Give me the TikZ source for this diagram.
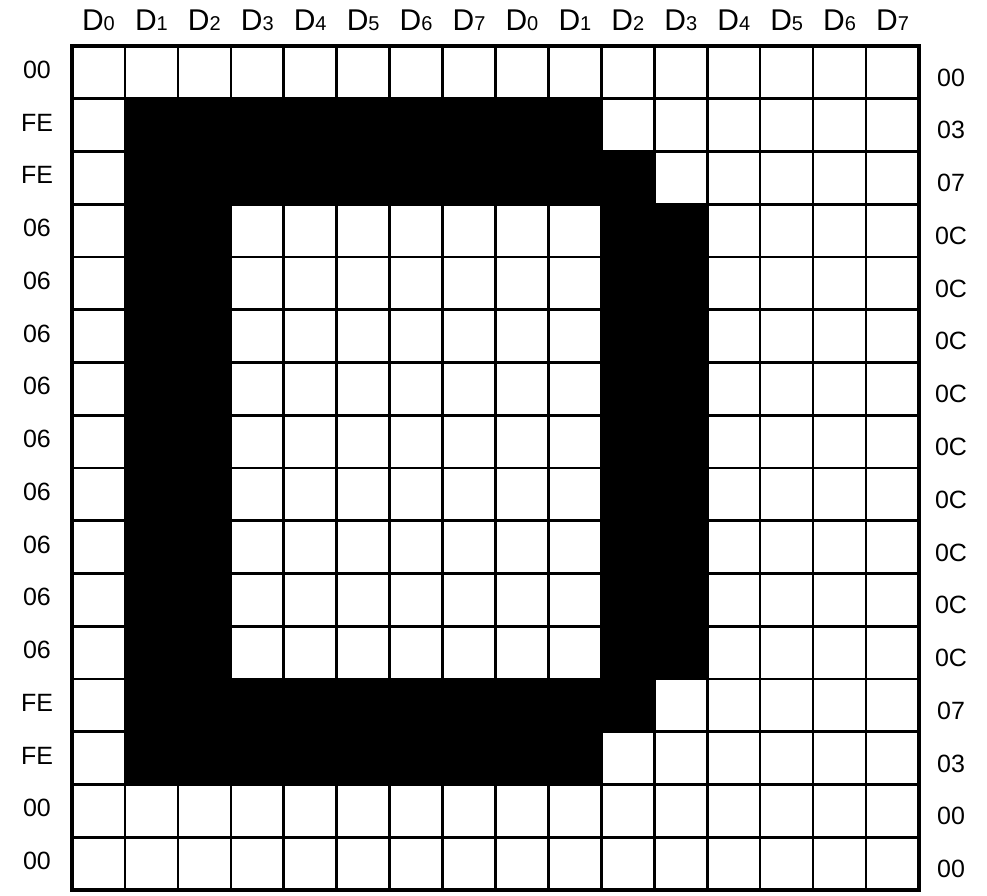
\documentclass[tikz,border=0pt]{standalone}
\usepackage{fontspec}
\setmainfont{Liberation Sans}
\begin{document}
\begin{tikzpicture}[x=1pt,y=1pt,
  gridline/.style={line width=2.6pt, line cap=round},
  blackcell/.style={fill=black, draw=none},
  hdr/.style={font=\fontsize{30}{32}\selectfont, inner sep=0pt, anchor=base},
  rowlbl/.style={font=\fontsize{25}{27}\selectfont, inner sep=0pt}]
\useasboundingbox (0,0) rectangle (987,896);
\def\cw{52.9375}
\def\ch{52.75}
\def\gx{72}
\def\gy{850}
% black cells (row/first col/last col)
\foreach \r/\a/\b in {1/1/9, 2/1/10, 12/1/10, 13/1/9}{
  \fill[blackcell] (\gx+\a*\cw, \gy-\r*\ch) rectangle (\gx+\b*\cw+\cw, \gy-\r*\ch-\ch);
}
\fill[blackcell] (\gx+1*\cw, \gy-3*\ch) rectangle (\gx+3*\cw, \gy-12*\ch);
\fill[blackcell] (\gx+10*\cw, \gy-3*\ch) rectangle (\gx+12*\cw, \gy-12*\ch);
% grid lines
\foreach \i in {0,...,16}{
  \draw[gridline] (\gx+\i*\cw, \gy) -- (\gx+\i*\cw, \gy-16*\ch);
  \draw[gridline] (\gx, \gy-\i*\ch) -- (\gx+16*\cw, \gy-\i*\ch);
}
\draw[line width=3.2pt] (\gx,\gy) rectangle (\gx+16*\cw, \gy-16*\ch);
% column headers
\foreach \i in {0,...,15}{
  \pgfmathtruncatemacro\d{mod(\i,8)}
  \node[hdr] (h\i) at (\gx+\i*\cw+0.5*\cw, 865) {D{\fontsize{20}{21}\selectfont\d}};
}
% left labels
\foreach \t [count=\k from 0] in {00,FE,FE,06,06,06,06,06,06,06,06,06,FE,FE,00,00}{
  \node[rowlbl] (l\k) at (37, \gy-\k*\ch-0.45*\ch) {\t};
}
% right labels
\foreach \t [count=\k from 0] in {00,03,07,0C,0C,0C,0C,0C,0C,0C,0C,0C,07,03,00,00}{
  \node[rowlbl] (r\k) at (951, \gy-\k*\ch-0.6*\ch) {\t};
}
\end{tikzpicture}
\end{document}
